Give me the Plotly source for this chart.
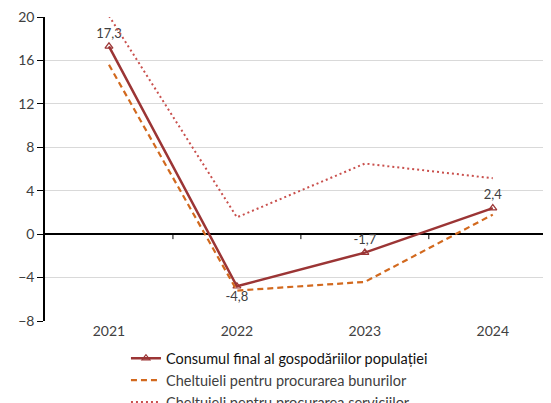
import plotly.graph_objects as go

years = ["2021", "2022", "2023", "2024"]
consum = [17.3, -4.8, -1.7, 2.4]
bunuri = [15.6, -5.2, -4.4, 1.8]
servicii = [20.1, 1.55, 6.5, 5.15]
consum_labels = ["17,3", "-4,8", "-1,7", "2,4"]
consum_label_pos = ["top center", "bottom center", "top center", "top center"]
y_ticks = [-8, -4, 0, 4, 8, 12, 16, 20]

FONT = "Lato"
GRAY = "#404040"

fig = go.Figure()
fig.add_trace(go.Scatter(
    x=years, y=consum, mode="lines+markers+text",
    name="<span style='color:#111111'>Consumul final al gospodăriilor populației</span>",
    line=dict(color="#9b3535", width=2.5),
    marker=dict(symbol="triangle-up-open", size=7, color="#9b3535", line=dict(width=1.2)),
    text=consum_labels, textposition=consum_label_pos,
    textfont=dict(family=FONT, size=13, color=GRAY), cliponaxis=False,
))
fig.add_trace(go.Scatter(
    x=years, y=bunuri, mode="lines",
    name="Cheltuieli pentru procurarea bunurilor",
    line=dict(color="#d2691e", width=2.2, dash="6px,4px"),
))
fig.add_trace(go.Scatter(
    x=years, y=servicii, mode="lines",
    name="Cheltuieli pentru procurarea serviciilor",
    line=dict(color="#c9504d", width=2, dash="2px,3px"),
))

# tick marks between categories on the zero line
for xv in [0.5, 1.5, 2.5]:
    fig.add_shape(type="line", xref="x", x0=xv, x1=xv, yref="y",
                  ysizemode="pixel", yanchor=0, y0=0, y1=-5,
                  line=dict(color="black", width=1))

fig.update_layout(
    width=543, height=395,
    margin=dict(l=37, r=0, t=9, b=82, autoexpand=False),
    paper_bgcolor="white", plot_bgcolor="white",
    font=dict(family=FONT, size=14, color=GRAY),
    xaxis=dict(type="category", range=[-0.5, 3.455], showgrid=False, showline=False,
               automargin=False,
               ticks="", tickfont=dict(family=FONT, size=14, color=GRAY)),
    yaxis=dict(range=[-8, 20], tickvals=y_ticks, showgrid=True, gridcolor="#d9d9d9",
               automargin=False, ticklabeloverflow="allow",
               gridwidth=1, zeroline=True, zerolinecolor="black", zerolinewidth=1.5,
               showline=True, linecolor="black", linewidth=1.5, ticks="outside",
               ticklen=6, tickcolor="black", tickfont=dict(family=FONT, size=14, color=GRAY)),
    showlegend=True,
    legend=dict(x=0.16, y=-0.07, xanchor="left", yanchor="top", orientation="v",
                font=dict(family=FONT, size=14.5, color=GRAY), tracegroupgap=0,
                bgcolor="rgba(0,0,0,0)"),
)

fig.write_html("out.html")
